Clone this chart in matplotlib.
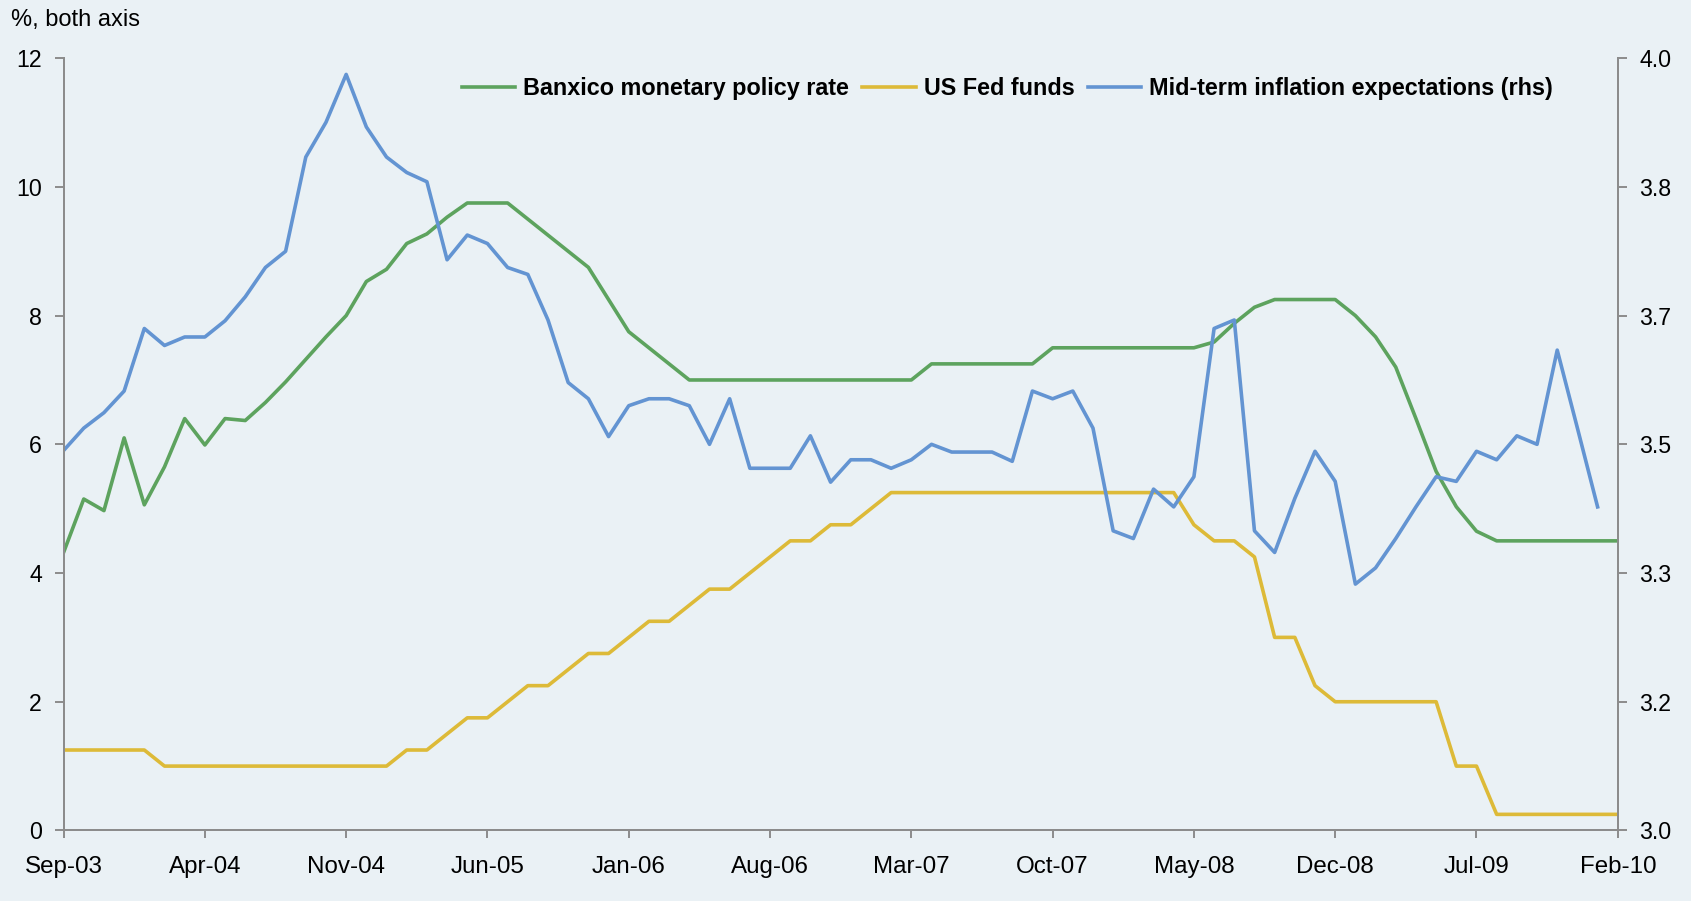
import numpy as np
import matplotlib
matplotlib.use('Agg')
import matplotlib.pyplot as plt
from matplotlib.ticker import FixedLocator, FormatStrFormatter

plt.rcParams['font.family'] = ['Liberation Sans', 'DejaVu Sans']

# monthly, Sep-03 .. Feb-10
tick_labels = ['Sep-03', 'Apr-04', 'Nov-04', 'Jun-05', 'Jan-06', 'Aug-06',
               'Mar-07', 'Oct-07', 'May-08', 'Dec-08', 'Jul-09', 'Feb-10']

banxico = [4.32, 5.15, 4.97, 6.10, 5.06, 5.65, 6.40, 5.99, 6.40, 6.37,
           6.65, 6.97, 7.32, 7.67, 8.00, 8.53, 8.72, 9.12, 9.27, 9.53,
           9.75, 9.75, 9.75, 9.50, 9.25, 9.00, 8.75, 8.25, 7.75, 7.50,
           7.25] + [7.00] * 12 + [7.25] * 6 + [7.50] * 8 + \
          [7.59, 7.88, 8.13] + [8.25] * 4 + \
          [8.00, 7.67, 7.20, 6.40, 5.58, 5.03, 4.65] + [4.50] * 7

fed_funds = [1.25] * 5 + [1.00] * 12 + \
            [1.25, 1.25, 1.50, 1.75, 1.75, 2.00, 2.25, 2.25, 2.50, 2.75,
             2.75, 3.00, 3.25, 3.25, 3.50, 3.75, 3.75, 4.00, 4.25, 4.50,
             4.50, 4.75, 4.75, 5.00] + [5.25] * 15 + \
            [4.75, 4.50, 4.50, 4.25, 3.00, 3.00, 2.25] + [2.00] * 6 + \
            [1.00, 1.00] + [0.25] * 7

# mid-term inflation expectations, last obs Jan-10
infl_exp = [3.492, 3.521, 3.541, 3.569, 3.650, 3.628, 3.639, 3.639, 3.660, 3.691,
            3.729, 3.750, 3.872, 3.917, 3.979, 3.911, 3.872, 3.852, 3.840, 3.739,
            3.771, 3.760, 3.729, 3.720, 3.661, 3.580, 3.559, 3.510, 3.550, 3.559,
            3.559, 3.550, 3.500, 3.559, 3.469, 3.469, 3.469, 3.511, 3.451, 3.480,
            3.480, 3.469, 3.480, 3.500, 3.490, 3.490, 3.490, 3.478, 3.569, 3.559,
            3.569, 3.521, 3.388, 3.378, 3.442, 3.419, 3.458, 3.650, 3.661, 3.388,
            3.360, 3.430, 3.491, 3.452, 3.319, 3.340, 3.378, 3.419, 3.458, 3.452,
            3.491, 3.480, 3.511, 3.500, 3.622, 3.521, 3.419]

bg = '#EAF1F5'
grey = '#8C8C8C'
c_green = '#5DA35E'
c_yellow = '#DDBA38'
c_blue = '#6394D2'

fig = plt.figure(figsize=(16.91, 9.01), dpi=100, facecolor=bg)
ax = fig.add_axes([0.0376, 0.0783, 0.9191, 0.8571])
ax.set_facecolor(bg)

x = np.arange(len(banxico))
l1, = ax.plot(x, banxico, color=c_green, lw=2.6, label='Banxico monetary policy rate')
l2, = ax.plot(x, fed_funds, color=c_yellow, lw=2.6, label='US Fed funds')

ax2 = ax.twinx()
l3, = ax2.plot(np.arange(len(infl_exp)), infl_exp, color=c_blue, lw=2.6,
               label='Mid-term inflation expectations (rhs)')

ax.set_xlim(0, len(banxico) - 1)
ax.set_ylim(0, 12)
ax2.set_ylim(3, 4)

ax.set_xticks(np.arange(0, len(banxico), 7))
ax.set_xticklabels(tick_labels)
ax.set_yticks(np.arange(0, 13, 2))
ax2.yaxis.set_major_locator(FixedLocator(3 + np.arange(7) / 6))
ax2.yaxis.set_major_formatter(FormatStrFormatter('%.1f'))

for a in (ax, ax2):
    for s in a.spines.values():
        s.set_color(grey)
        s.set_linewidth(1.4)
    a.spines['top'].set_visible(False)
    a.tick_params(colors=grey, width=1.4, length=6.5, labelcolor='black',
                  labelsize=16.7, pad=9)
ax.tick_params(axis='x', pad=13, labelsize=17.4, length=5.5)

fig.text(0.0064, 0.978, '%, both axis', fontsize=17, va='center', ha='left')

ax2.legend(handles=[l1, l2, l3], loc='center', bbox_to_anchor=(0.5957, 0.902),
           bbox_transform=fig.transFigure, ncol=3, frameon=False,
           prop={'size': 16.8, 'weight': 'bold'}, handlelength=2.3,
           handletextpad=0.35, columnspacing=0.55)

fig.savefig('out.png', dpi=100, facecolor=bg)
